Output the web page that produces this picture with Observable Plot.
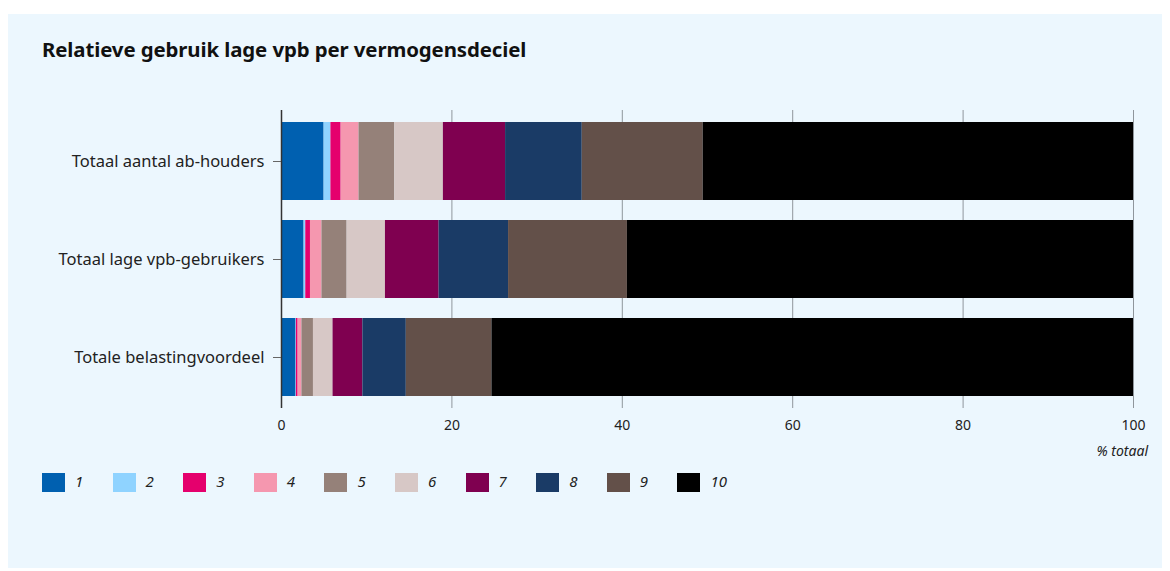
<!DOCTYPE html>
<html>
<head>
<meta charset="utf-8">
<script src="https://cdn.jsdelivr.net/npm/d3@7"></script>
<script src="https://cdn.jsdelivr.net/npm/@observablehq/plot@0.6"></script>
<style>
  html, body { margin: 0; padding: 0; background: #ffffff; }
  body { width: 1170px; height: 571px; position: relative; overflow: hidden; font-family: "Noto Sans", sans-serif; }
  #panel { position: absolute; left: 8px; top: 14px; width: 1154px; height: 554px; background: #ECF7FE; }
  #title { position: absolute; left: 34px; top: 21px; font-size: 20.4px; font-weight: 700; color: #111; letter-spacing: -0.1px; }
  #chart { position: absolute; left: 0; top: 86px; }
  #xlabel { position: absolute; right: 14px; top: 427px; font-size: 14px; font-style: italic; color: #222; }
  #legend { position: absolute; left: 34px; top: 459px; height: 19px; }
  .item { position: absolute; top: 0; height: 19px; }
  .sw { position: absolute; left: 0; top: 0; width: 23px; height: 19px; box-sizing: border-box; }
  .lab { position: absolute; left: 33px; top: -1px; font-size: 15px; font-style: italic; color: #222; line-height: 19px; white-space: nowrap; }
</style>
</head>
<body>
<div id="panel">
  <div id="title">Relatieve gebruik lage vpb per vermogensdeciel</div>
  <div id="chart"></div>
  <div id="xlabel">% totaal</div>
  <div id="legend"></div>
</div>
<script>
const categories = ["Totaal aantal ab-houders", "Totaal lage vpb-gebruikers", "Totale belastingvoordeel"];
const deciles = ["1", "2", "3", "4", "5", "6", "7", "8", "9", "10"];
const abHouders = [5.0, 0.8, 1.2, 2.1, 4.2, 5.7, 7.3, 9.0, 14.2, 50.5];
const lageVpbGebruikers = [2.65, 0.2, 0.55, 1.35, 2.95, 4.5, 6.3, 8.15, 13.95, 59.4];
const belastingvoordeel = [1.7, 0.05, 0.2, 0.45, 1.35, 2.3, 3.5, 5.1, 10.05, 75.3];
const colors = ["#0060B0", "#8FD3FF", "#E5006D", "#F597AF", "#958179", "#D7C8C6", "#7F0050", "#1A3B66", "#635049", "#000000"];
const xTicks = [0, 20, 40, 60, 80, 100];

const series = [abHouders, lageVpbGebruikers, belastingvoordeel];
const data = [];
categories.forEach((c, i) => {
  deciles.forEach((d, j) => data.push({category: c, decile: d, value: series[i][j]}));
});

const plot = Plot.plot({
  width: 1154,
  height: 342,
  marginLeft: 273,
  marginRight: 29,
  marginTop: 10,
  marginBottom: 34,
  style: {background: "transparent", fontFamily: "Noto Sans, sans-serif", color: "#222"},
  x: {domain: [0, 100]},
  y: {domain: categories, paddingInner: 0.204, paddingOuter: 0.122},
  color: {domain: deciles, range: colors},
  marks: [
    Plot.gridX(xTicks, {stroke: "#8f969c", strokeOpacity: 1, strokeWidth: 1}),
    Plot.barX(data, {x: "value", y: "category", fill: "decile", inset: 0}),
    Plot.ruleX([0], {stroke: "#333", strokeWidth: 1.5}),
    Plot.axisX(xTicks, {tickSize: 0, tickPadding: 12, fontSize: 14, label: null}),
    Plot.axisY({tickSize: 8, tickPadding: 9, fontSize: 16.5, label: null, stroke: "#666"})
  ]
});
document.getElementById("chart").appendChild(plot);

const legend = document.getElementById("legend");
deciles.forEach((d, i) => {
  const item = document.createElement("div");
  item.className = "item";
  item.style.left = (i * 70.6) + "px";
  const sw = document.createElement("div");
  sw.className = "sw";
  sw.style.background = colors[i];
  const lab = document.createElement("div");
  lab.className = "lab";
  lab.textContent = d;
  item.appendChild(sw);
  item.appendChild(lab);
  legend.appendChild(item);
});
</script>
</body>
</html>
